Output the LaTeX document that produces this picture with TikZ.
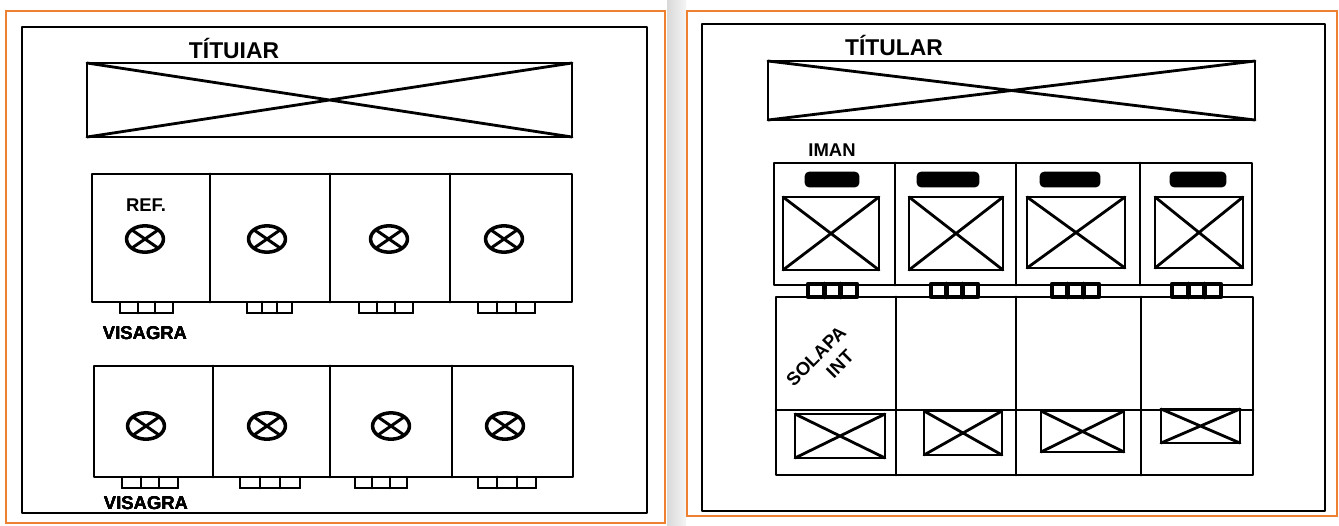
\documentclass[tikz,border=0pt]{standalone}
\usepackage{fontspec}
\setsansfont{Liberation Sans}
\definecolor{sketchorange}{RGB}{238,128,50}

% picture box with a cross
\newcommand{\imgbox}[4]{%
  \draw[ink] (#1,#2) rectangle (#3,#4);
  \draw[ink] (#1,#2) -- (#3,#4) (#1,#4) -- (#3,#2);}
% round reference mark
\newcommand{\knob}[2]{%
  \draw[ink, line width=2pt] (#1,#2) ellipse [x radius=10.5pt, y radius=7.5pt];
  \draw[ink, line width=1.7pt] (#1-13,#2-9) -- (#1+13,#2+9) (#1-13,#2+9) -- (#1+13,#2-9);}
% hinge under a card
\newcommand{\hinge}[4]{%
  \draw[hingebox] (#1,#3) rectangle (#2,#4);
  \draw[hingebox] ({#1+(#2-#1)/3},#3) -- ({#1+(#2-#1)/3},#4)
                  ({#1+2*(#2-#1)/3},#3) -- ({#1+2*(#2-#1)/3},#4);}

\tikzset{
  ink/.style={line width=1.6pt, black, line join=round, line cap=round},
  frame/.style={draw=sketchorange, line width=1.5pt},
  hingebox/.style={ink, line width=1.3pt},
  hand/.style={font=\sffamily\bfseries\fontsize{10.5}{11}\selectfont, inner sep=0pt},
  bighand/.style={hand, font=\sffamily\bfseries\fontsize{13}{13}\selectfont},
}

\begin{document}
\begin{tikzpicture}[x=0.02cm, y=-0.02cm]
  \useasboundingbox[fill=white] (0,0) rectangle (1339,525);

  % ---------------- Left sheet ----------------
  \draw[frame] (6,11) rectangle (665,523);
  \draw[ink] (22,27) rectangle (647,513);

  % Banner
  \node[bighand] (titleL) at (234,48) {TÍTUIAR};
  \imgbox{87}{63}{572}{137}

  % Upper row of cards
  \draw[ink] (92,174) rectangle (572,302);
  \foreach \x in {210,330,450} \draw[ink] (\x,174) -- (\x,302);
  \node[hand] (ref) at (146,205) {REF.};
  \foreach \x in {145,267,389,504} \knob{\x}{239}
  \hinge{120}{173}{302}{313}
  \hinge{247}{292}{302}{313}
  \hinge{359}{413}{302}{313}
  \hinge{478}{535}{302}{313}
  \node[hand] (visagraA) at (145,333) {VISAGRA};

  % Lower row of cards
  \draw[ink] (94,366) rectangle (573,477);
  \foreach \x in {213,330,452} \draw[ink] (\x,366) -- (\x,477);
  \foreach \x in {146,267,391,505} \knob{\x}{426}
  \hinge{122}{178}{477}{488}
  \hinge{240}{300}{477}{488}
  \hinge{355}{407}{477}{488}
  \hinge{478}{536}{477}{488}
  \node[hand] (visagraB) at (146,503) {VISAGRA};

  % ---------------- Right sheet ----------------
  \shade[left color=gray!30, right color=gray!8] (667,0) rectangle (686,525);
  \draw[frame] (687,11) rectangle (1337,516);
  \draw[ink] (702,24) rectangle (1325,511);

  % Banner
  \node[bighand] (titleR) at (894,45) {TÍTULAR};
  \imgbox{768}{61}{1255}{120}

  % Cards with magnets
  \node[hand] (iman) at (832,150) {IMAN};
  \draw[ink] (774,163) rectangle (1252,285);
  \foreach \x in {895,1016,1140} \draw[ink] (\x,163) -- (\x,285);
  \foreach \x/\w in {832/26,948/30,1070/29,1198/27}
    \draw[ink, fill=black, rounded corners=2pt] (\x-\w,173) rectangle (\x+\w,186);
  \imgbox{783}{197}{879}{270}
  \imgbox{909}{197}{1003}{270}
  \imgbox{1027}{197}{1125}{268}
  \imgbox{1155}{197}{1243}{268}

  % Hinges between the rows
  \begin{scope}[hingebox/.style={ink, line width=2.6pt}]
    \hinge{808}{857}{284}{297}
    \hinge{931}{978}{284}{297}
    \hinge{1052}{1099}{284}{297}
    \hinge{1172}{1221}{284}{297}
  \end{scope}

  % Inner flap
  \draw[ink] (776,297) rectangle (1253,475);
  \foreach \x in {896,1016,1141} \draw[ink] (\x,297) -- (\x,475);
  \draw[ink] (776,410) -- (1253,410);
  \node[hand, rotate=45] (solapa) at (816,356) {SOLAPA};
  \node[hand, rotate=45] (inti) at (840,364) {INT};
  \imgbox{795}{414}{885}{458}
  \imgbox{924}{411}{1002}{455}
  \imgbox{1041}{411}{1124}{452}
  \imgbox{1161}{409}{1240}{443}
\end{tikzpicture}
\end{document}
